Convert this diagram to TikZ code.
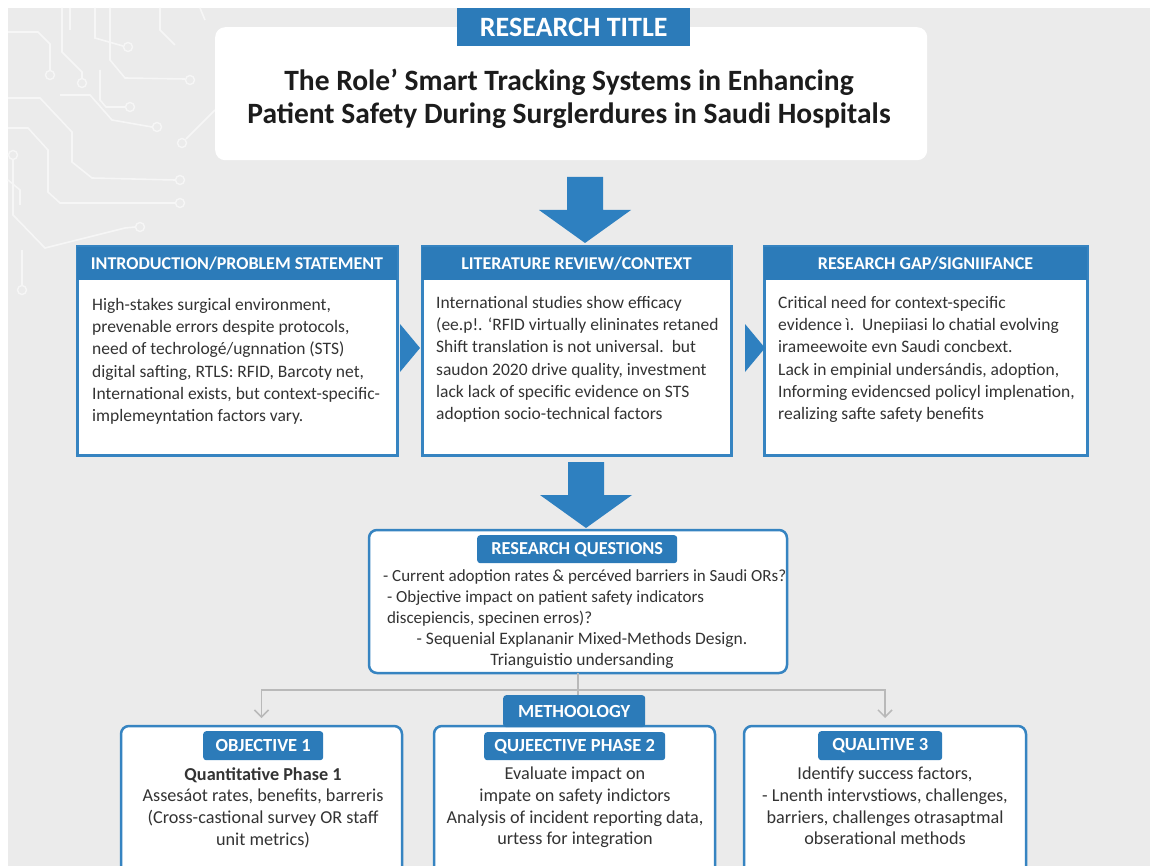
\documentclass[tikz,border=0pt]{standalone}
\usepackage{fontspec}
\setmainfont{Carlito}
\usetikzlibrary{arrows.meta,calc}
\definecolor{pagegray}{HTML}{EBEBEB}
\definecolor{tabblue}{HTML}{2C7BB9}
\definecolor{lineblue}{HTML}{3684C1}
\definecolor{arrowblue}{HTML}{2E80C0}
\definecolor{ink}{HTML}{333333}
\definecolor{titleink}{HTML}{1C1C1C}
\definecolor{connector}{HTML}{B9B9B9}
\definecolor{trace}{HTML}{F6F6F6}

\tikzset{
  panel/.style={draw=lineblue, line width=3pt, fill=white, anchor=north west, inner sep=0pt, outer sep=0pt},
  headbar/.style={fill=tabblue, text=white, anchor=north west, inner sep=0pt, outer sep=0pt,
    font=\bfseries\fontsize{18}{20}\selectfont},
  bodytext/.style={text=ink, align=left, anchor=north west, inner sep=0pt,
    font=\fontsize{17.5}{22.3}\selectfont},
  card/.style={draw=lineblue, line width=2.5pt, fill=white, rounded corners=8pt, anchor=north west,
    inner sep=0pt, outer sep=0pt},
  tab/.style={fill=tabblue, text=white, rounded corners=3pt, anchor=north west, inner sep=0pt,
    font=\bfseries\fontsize{18.5}{20}\selectfont},
  cardtext/.style={text=ink, align=center, anchor=north, inner sep=0pt,
    font=\fontsize{18.2}{21.7}\selectfont},
  link/.style={draw=connector, line width=1.5pt},
  chevron/.style={-{Straight Barb[length=7pt,width=14pt,line width=1.5pt]}, shorten >=8pt},
  pcb/.style={draw=trace, line width=1.6pt},
  pad/.style={draw=trace, line width=1.4pt, fill=pagegray},
  pics/downblock/.style={code={
    \fill[arrowblue] (-18,-66) -- (18,-66) -- (18,-33) -- (46,-33) -- (0,0)
      -- (-46,-33) -- (-18,-33) -- cycle;}},
  pics/rightblock/.style={code={
    \fill[arrowblue] (-20,-24) -- (0,0) -- (-20,24) -- cycle;}},
}

\begin{document}
\begin{tikzpicture}[x=1pt,y=-1pt]
\useasboundingbox (0,0) rectangle (1150,866);
\begin{scope}
\clip (0,0) rectangle (1150,866);

% page
\fill[white] (0,0) rectangle (1150,866);
\fill[pagegray] (8,8) rectangle (1150,866);

% circuit-board traces, top left
\draw[pcb] (8,32) -- (38,32) -- (50,44) -- (50,70);
\draw[pad] (50,75) circle (4.5);
\draw[pcb] (62,8) -- (62,52) -- (82,72) -- (82,78);
\draw[pad] (82,83) circle (4.5);
\draw[pcb] (95,8) -- (95,38) -- (123,46);
\draw[pad] (128,47) circle (4.5);
\draw[pcb] (110,8) -- (110,60) -- (125,78) -- (185,79);
\draw[pad] (190,80) circle (4.5);
\draw[pcb] (100,70) -- (100,100) -- (106,107) -- (125,107);
\draw[pad] (130,107) circle (4.5);
\draw[pcb] (70,8) -- (70,30);
\draw[pcb] (60,95) -- (90,95) -- (112,120) -- (152,127);
\draw[pad] (157,127) circle (4.5);
\draw[pcb] (8,98) -- (40,98) -- (72,132) -- (72,162) -- (92,178) -- (175,180);
\draw[pad] (180,180) circle (4.5);
\draw[pcb] (8,128) -- (28,128) -- (48,150) -- (48,192) -- (60,203) -- (175,203);
\draw[pad] (180,203) circle (4.5);
\draw[pad] (13,155) circle (4.5);
\draw[pcb] (13,160) -- (13,215) -- (45,248) -- (125,228) -- (135,227);
\draw[pad] (140,227) circle (4.5);
\draw[pcb] (186,139) -- (215,110);
\draw[pad] (182,143) circle (4.5);
\draw[pcb] (8,180) -- (20,190) -- (20,205);
\draw[pcb] (22,250) -- (22,285);
\draw[pad] (22,290) circle (4.5);
\draw[pcb] (160,8) -- (160,30) -- (175,45);
\draw[pcb] (200,8) -- (205,20);

% title card
\node[fill=white, rounded corners=10pt, anchor=north west, minimum width=712pt, minimum height=133pt,
  inner sep=0pt] (title) at (215,27) {};
\node[fill=tabblue, text=white, anchor=north west, minimum width=233pt, minimum height=38pt,
  inner sep=0pt, font=\bfseries\fontsize{28}{30}\selectfont] (titletab) at (457,8) {RESEARCH TITLE};
\node[text=titleink, align=center, font=\bfseries\fontsize{29.5}{33}\selectfont, inner sep=0pt]
  (titletext) at (569,99) {The Role’ Smart Tracking Systems in Enhancing\\
  Patient Safety During Surglerdures in Saudi Hospitals};

\pic at (585,243) {downblock};

% three context panels
\node[panel, minimum width=320pt, minimum height=208pt] (intro) at (77,247) {};
\node[headbar, minimum width=320pt, minimum height=33pt] (introhead) at (77,247)
  {INTRODUCTION/PROBLEM STATEMENT};
\node[bodytext] (introtext) at (92,298) {High-stakes surgical environment,\\
  prevenable errors despite protocols,\\
  need of techrologé/ugnnation (STS)\\
  digital safting, RTLS: RFID, Barcoty net,\\
  International exists, but context-specific-\\
  implemeyntation factors vary.};

\node[panel, minimum width=309pt, minimum height=208pt] (lit) at (422,247) {};
\node[headbar, minimum width=309pt, minimum height=33pt] (lithead) at (422,247)
  {LITERATURE REVIEW/CONTEXT};
\node[bodytext] (littext) at (436,296) {International studies show efficacy\\
  (ee.p!. ‘RFID virtually elininates retaned\\
  Shift translation is not universal.\ \ but\\
  saudon 2020 drive quality, investment\\
  lack lack of specific evidence on STS\\
  adoption socio-technical factors};

\node[panel, minimum width=323pt, minimum height=208pt] (gap) at (764,247) {};
\node[headbar, minimum width=323pt, minimum height=33pt] (gaphead) at (764,247)
  {RESEARCH GAP/SIGNIIFANCE};
\node[bodytext] (gaptext) at (778,296) {Critical need for context-specific\\
  evidence ì.\ \ Unepiiasi lo chatial evolving\\
  irameewoite evn Saudi concbext.\\
  Lack in empinial undersándis, adoption,\\
  Informing evidencsed policyl implenation,\\
  realizing safte safety benefits};

\pic at ($(intro.east)+(23,-3)$) {rightblock};
\pic at ($(lit.east)+(34,-3)$) {rightblock};

\pic at (586,528) {downblock};

% research questions
\node[card, minimum width=418pt, minimum height=143pt] (rq) at (369,530) {};
\node[tab, minimum width=200pt, minimum height=28pt, font=\bfseries\fontsize{18.3}{20}\selectfont]
  (rqtab) at (477,535) {RESEARCH QUESTIONS};
\node[bodytext, font=\fontsize{17}{21.3}\selectfont] (rqtext) at (383,569)
  {- Current adoption rates \& percéved barriers in Saudi ORs?\\
  \ - Objective impact on patient safety indicators\\
  \ discepiencis, specinen erros)?};
\node[cardtext, font=\fontsize{17.5}{21.3}\selectfont] (rqdesign) at (582,632)
  {- Sequenial Explananir Mixed-Methods Design.\\ Trianguistio undersanding};

% methodology cards
\node[card, minimum width=281pt, minimum height=170pt] (obja) at (121,726) {};
\node[card, minimum width=281pt, minimum height=170pt] (objb) at (434,726) {};
\node[card, minimum width=282pt, minimum height=170pt] (objc) at (744,726) {};

\coordinate (split) at (rq.south |- 0,690);
\draw[link] (rq.south) -- (split);
\draw[link] (split) -- ++(0,8);
\draw[link, chevron] (split) -| (obja.north);
\draw[link, chevron] (split) -| (objc.north);

\node[tab, minimum width=142pt, minimum height=32pt] (meth) at (503,695) {METHOOLOGY};

\node[tab, minimum width=120pt, minimum height=29pt] (tabA) at (203,731) {OBJECTIVE 1};
\node[tab, minimum width=181pt, minimum height=28pt] (tabB) at (484,732) {QUJEECTIVE PHASE 2};
\node[tab, minimum width=124pt, minimum height=29pt] (tabC) at (818,731) {QUALITIVE 3};

\node[cardtext] (textA) at (263,767) {\textbf{Quantitative Phase 1}\\
  Assesáot rates, benefits, barreris\\
  (Cross-castional survey OR staff\\
  unit metrics)};
\node[cardtext] (textB) at (575,767) {Evaluate impact on\\
  impate on safety indictors\\
  Analysis of incident reporting data,\\
  urtess for integration};
\node[cardtext] (textC) at (885,767) {Identify success factors,\\
  - Lnenth intervstiows, challenges,\\
  barriers, challenges otrasaptmal\\
  obserational methods};
\end{scope}
\end{tikzpicture}
\end{document}
